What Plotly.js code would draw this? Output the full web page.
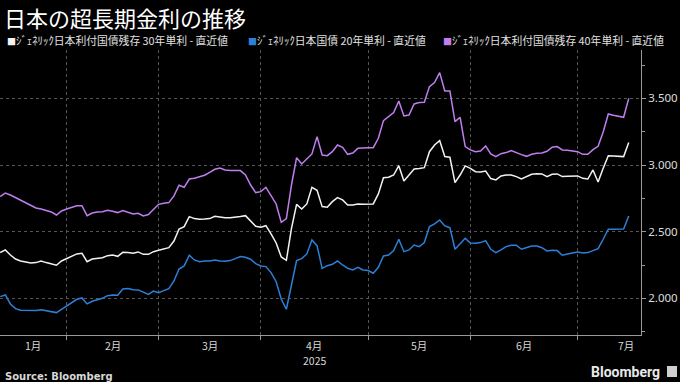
<!DOCTYPE html>
<html>
<head>
<meta charset="utf-8">
<script src="https://cdn.plot.ly/plotly-3.0.1.min.js"></script>
<style>
html,body{margin:0;padding:0;background:#000;}
#chart{width:680px;height:382px;}
</style>
</head>
<body>
<div id="chart"></div>
<script>
// ---- data ----
const titleText = '日本の超長期金利の推移';
const startDate = '2025-01-15';
const endDate = '2025-07-15';
const holidays = ['2025-02-11','2025-02-24','2025-03-20','2025-04-29','2025-05-05','2025-05-06'];

const seriesNames = [
  'ｼﾞｪﾈﾘｯｸ日本利付国債残存 30年単利 - 直近値',
  'ｼﾞｪﾈﾘｯｸ日本国債 20年単利 - 直近値',
  'ｼﾞｪﾈﾘｯｸ日本利付国債残存 40年単利 - 直近値'
];
const seriesColors = ['#f2f2f2', '#2c80d8', '#c07ef0'];

const yield30 = [
  2.343,2.363,2.325,2.295,2.28,2.27,2.265,2.268,2.28,2.268,
  2.26,2.248,2.28,2.298,2.313,2.333,2.338,2.275,2.295,2.298,
  2.305,2.32,2.325,2.315,2.345,2.343,2.338,2.348,2.33,2.33,
  2.35,2.36,2.37,2.38,2.43,2.52,2.538,2.613,2.598,2.593,
  2.595,2.598,2.615,2.608,2.605,2.605,2.608,2.613,2.62,2.58,
  2.54,2.533,2.545,2.483,2.415,2.31,2.285,2.525,2.705,2.67,
  2.708,2.833,2.81,2.688,2.683,2.725,2.755,2.738,2.7,2.7,
  2.708,2.705,2.708,2.708,2.783,2.905,2.908,2.925,2.995,2.88,
  2.925,2.97,2.973,2.98,3.1,3.15,3.183,3.063,3.058,2.868,
  2.925,2.993,2.975,2.95,2.948,2.955,2.898,2.888,2.918,2.925,
  2.925,2.913,2.895,2.913,2.93,2.935,2.933,2.913,2.93,2.933,
  2.913,2.915,2.918,2.918,2.9,2.895,2.963,2.873,2.975,3.07,
  3.068,3.065,3.063,3.168
];
const yield20 = [
  2.013,2.025,1.958,1.923,1.91,1.908,1.905,1.908,1.915,1.908,
  1.905,1.893,1.918,1.943,1.968,1.993,2.003,1.958,1.978,1.988,
  2.0,2.02,2.025,2.023,2.07,2.073,2.065,2.063,2.045,2.03,
  2.055,2.043,2.058,2.073,2.13,2.22,2.243,2.323,2.288,2.275,
  2.28,2.28,2.288,2.28,2.278,2.283,2.298,2.313,2.308,2.293,
  2.26,2.243,2.238,2.193,2.125,1.995,1.918,2.113,2.283,2.298,
  2.333,2.438,2.395,2.225,2.245,2.255,2.28,2.25,2.225,2.213,
  2.233,2.213,2.208,2.188,2.233,2.318,2.325,2.358,2.443,2.35,
  2.363,2.4,2.388,2.418,2.538,2.558,2.588,2.543,2.53,2.368,
  2.408,2.45,2.415,2.413,2.418,2.433,2.368,2.343,2.363,2.388,
  2.398,2.398,2.368,2.383,2.393,2.393,2.38,2.355,2.36,2.358,
  2.323,2.333,2.343,2.348,2.34,2.343,2.358,2.373,2.443,2.518,
  2.518,2.518,2.52,2.618
];
const yield40 = [
  2.763,2.79,2.775,2.755,2.735,2.715,2.695,2.678,2.67,2.66,
  2.648,2.625,2.655,2.67,2.685,2.695,2.695,2.62,2.64,2.648,
  2.65,2.66,2.653,2.643,2.658,2.648,2.633,2.638,2.618,2.628,
  2.668,2.705,2.713,2.718,2.768,2.848,2.833,2.895,2.9,2.91,
  2.923,2.945,2.968,2.978,2.963,2.958,2.958,2.958,2.925,2.85,
  2.793,2.8,2.833,2.768,2.708,2.57,2.598,2.85,3.055,3.008,
  3.043,3.083,3.213,3.075,3.07,3.1,3.15,3.133,3.08,3.09,
  3.125,3.13,3.13,3.13,3.2,3.333,3.363,3.393,3.48,3.368,
  3.375,3.458,3.468,3.47,3.588,3.618,3.693,3.555,3.555,3.325,
  3.358,3.138,3.113,3.1,3.105,3.143,3.083,3.063,3.085,3.093,
  3.108,3.09,3.078,3.065,3.08,3.088,3.09,3.103,3.133,3.138,
  3.113,3.11,3.105,3.1,3.08,3.08,3.115,3.14,3.248,3.383,
  3.373,3.363,3.358,3.5
];
const monthLabels = ['1月','2月','3月','4月','5月','6月','7月'];
const yearLabel = '2025';
const yTicks = [2.0, 2.5, 3.0, 3.5];
const yMinorTicks = [1.75, 2.25, 2.75, 3.25, 3.75];
const sourceText = 'Source: Bloomberg';
const brandText = 'Bloomberg';

// ---- trading-day calendar (weekdays minus holidays) ----
function tradingDays(s, e, hol) {
  const out = [];
  const d = new Date(s + 'T00:00:00Z');
  const end = new Date(e + 'T00:00:00Z');
  while (d <= end) {
    const iso = d.toISOString().slice(0, 10);
    const wd = d.getUTCDay();
    if (wd !== 0 && wd !== 6 && !hol.includes(iso)) out.push(iso);
    d.setUTCDate(d.getUTCDate() + 1);
  }
  return out;
}
const dates = tradingDays(startDate, endDate, holidays);

// month boundaries (first trading day of each month)
const monthStartIdx = [];
for (let i = 1; i < dates.length; i++) {
  if (dates[i].slice(5, 7) !== dates[i - 1].slice(5, 7)) monthStartIdx.push(i);
}
const monthStarts = monthStartIdx.map(i => dates[i]);

// ---- geometry ----
const W = 680, H = 382;
const M = {l: 0, r: 39, t: 50, b: 47};
const PW = W - M.l - M.r, PH = H - M.t - M.b;
const xRange = [-0.04, 125.4];
const yRange = [1.725, 3.8625];
const px = v => v / PW;           // horizontal pixels -> paper
const pyBelow = v => -(v) / PH;   // pixels below plot bottom -> paper

const font = '"Noto Sans CJK JP", "Noto Sans", sans-serif';

const traces = [yield30, yield20, yield40].map((ys, k) => ({
  type: 'scatter', mode: 'lines',
  x: dates, y: ys, name: seriesNames[k],
  line: {color: seriesColors[k], width: 1.5},
  hoverinfo: 'skip'
}));

const annotations = [];
// legend
const legendX = [5, 246, 441];
seriesNames.forEach((n, k) => {
  annotations.push({
    xref: 'paper', yref: 'paper', x: px(legendX[k]), y: 1 + 10 / PH,
    xanchor: 'left', yanchor: 'middle', showarrow: false,
    text: '<span style="color:' + seriesColors[k] + ';font-size:9px">■</span>' + n,
    font: {family: font, size: 10.8, color: '#e0e0e0'}
  });
});
// month labels
const bounds = [xRange[0]].concat(monthStartIdx);
monthLabels.forEach((m, k) => {
  const last = k === monthLabels.length - 1;
  annotations.push({
    xref: 'x', yref: 'paper',
    x: last ? xRange[1] - 0.9 : (bounds[k] + bounds[k + 1]) / 2,
    y: pyBelow(10),
    xanchor: last ? 'right' : 'center', yanchor: 'middle', showarrow: false, text: m,
    font: {family: font, size: 10.5, color: '#d8d8d8'}
  });
});
annotations.push({
  xref: 'x', yref: 'paper', x: (monthStartIdx[2] + monthStartIdx[3]) / 2, y: pyBelow(25),
  xanchor: 'center', yanchor: 'middle', showarrow: false, text: yearLabel,
  font: {family: font, size: 10.5, color: '#d8d8d8'}
});
annotations.push({
  xref: 'paper', yref: 'paper', x: px(3), y: pyBelow(41),
  xanchor: 'left', yanchor: 'middle', showarrow: false, text: '<b>' + sourceText + '</b>',
  font: {family: '"DejaVu Sans", sans-serif', size: 10, color: '#d8d8d8'}
});
annotations.push({
  xref: 'paper', yref: 'paper', x: px(662), y: pyBelow(37),
  xanchor: 'right', yanchor: 'middle', showarrow: false, text: '<b>' + brandText + '</b>',
  font: {family: 'Roboto, sans-serif', size: 14, color: '#e8e8e8'}
});
// title
annotations.push({
  xref: 'paper', yref: 'paper', x: px(2), y: 1 + (M.t - 17) / PH,
  xanchor: 'left', yanchor: 'middle', showarrow: false, text: titleText,
  font: {family: font, size: 22, color: '#ffffff'}
});

const layout = {
  width: W, height: H,
  paper_bgcolor: '#000', plot_bgcolor: '#000',
  margin: {l: M.l, r: M.r, t: M.t, b: M.b, pad: 0},
  showlegend: false,
  font: {family: font, color: '#e0e0e0', size: 11},
  xaxis: {
    type: 'category', range: xRange, autorange: false,
    tickmode: 'array', tickvals: monthStarts, ticktext: monthStarts.map(() => ''),
    showgrid: true, gridcolor: '#555555', griddash: 'dot', gridwidth: 1,
    ticks: 'outside', ticklen: 4, tickcolor: '#999999', tickwidth: 1,
    showline: true, linecolor: '#999999', linewidth: 1,
    zeroline: false, fixedrange: true
  },
  yaxis: {
    side: 'right', range: yRange, autorange: false,
    tickmode: 'array', tickvals: yTicks, tickformat: '.3f',
    showgrid: true, gridcolor: '#555555', griddash: 'dot', gridwidth: 1,
    ticks: 'outside', ticklen: 4, tickcolor: '#999999', tickwidth: 1,
    showline: true, linecolor: '#999999', linewidth: 1,
    zeroline: false, fixedrange: true,
    tickfont: {family: '"Noto Sans", sans-serif', size: 11.5, color: '#dddddd'},
    minor: {tickmode: 'array', tickvals: yMinorTicks, ticks: 'outside', ticklen: 3, tickcolor: '#999999', showgrid: false}
  },
  annotations: annotations,
  shapes: [{
    type: 'rect', xref: 'paper', yref: 'paper',
    x0: px(667), x1: px(677), y0: pyBelow(42), y1: pyBelow(31),
    fillcolor: '#cfcfcf', line: {width: 0}
  }]
};

Plotly.newPlot('chart', traces, layout, {staticPlot: true, displayModeBar: false});
</script>
</body>
</html>
